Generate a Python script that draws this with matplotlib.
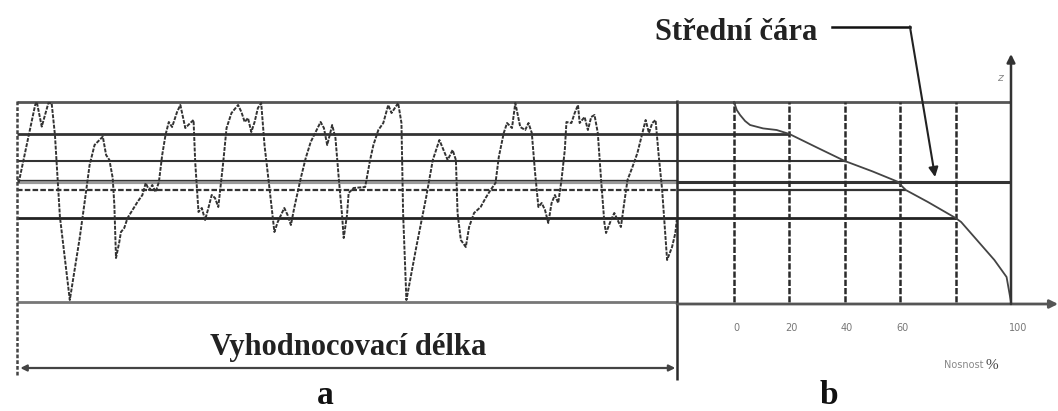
import numpy as np
import matplotlib
matplotlib.use("Agg")
import matplotlib.pyplot as plt

# Roughness profile: position along evaluation length (mm) and height (um)
profile_x = [0.01, 0.11, 0.12, 0.15, 0.17, 0.19, 0.21, 0.23, 0.26, 0.32,
             0.38, 0.41, 0.44, 0.47, 0.52, 0.54, 0.56, 0.58, 0.59, 0.60,
             0.62, 0.63, 0.65, 0.67, 0.70, 0.73, 0.76, 0.78, 0.80, 0.82,
             0.84, 0.86, 0.88, 0.90, 0.92, 0.94, 0.97, 0.99, 1.02, 1.05,
             1.07, 1.08, 1.10, 1.12, 1.14, 1.16, 1.18, 1.20, 1.22, 1.23,
             1.25, 1.27, 1.30, 1.34, 1.36, 1.38, 1.40, 1.42, 1.44, 1.46,
             1.48, 1.50, 1.53, 1.55, 1.56, 1.58, 1.60, 1.62, 1.64, 1.66,
             1.68, 1.72, 1.75, 1.78, 1.81, 1.84, 1.86, 1.88, 1.90, 1.91,
             1.93, 1.95, 1.97, 1.98, 2.00, 2.01, 2.04, 2.11, 2.14, 2.16,
             2.19, 2.22, 2.25, 2.27, 2.29, 2.31, 2.33, 2.34, 2.36, 2.42,
             2.48, 2.52, 2.56, 2.59, 2.61, 2.64, 2.66, 2.67, 2.69, 2.72,
             2.74, 2.77, 2.81, 2.84, 2.87, 2.90, 2.92, 2.95, 2.97, 3.00,
             3.02, 3.05, 3.08, 3.10, 3.12, 3.14, 3.16, 3.18, 3.20, 3.22,
             3.24, 3.26, 3.28, 3.30, 3.32, 3.33, 3.36, 3.38, 3.40, 3.41,
             3.44, 3.46, 3.48, 3.50, 3.52, 3.54, 3.56, 3.57, 3.60, 3.62,
             3.64, 3.66, 3.68, 3.70, 3.73, 3.76, 3.79, 3.81, 3.83, 3.85,
             3.87, 3.89, 3.91, 3.93, 3.94, 3.97, 3.99, 4.00]
profile_z = [59.5, 98.5, 100, 87.7, 93.5, 99.4, 99.4, 83.5, 42.7, 1,
             32, 50, 68.5, 78.5, 82.7, 73.5, 71, 62, 48.5, 22,
             30, 35, 37, 42, 46, 50, 53.5, 59.5, 56, 58.5,
             55, 60, 73.5, 83.5, 90, 87.5, 95, 98.5, 87, 89.5,
             91, 70, 45, 47, 41, 47, 53.5, 52, 47.5, 55,
             70, 87, 94.5, 98.5, 95, 90, 92, 85, 90, 97,
             99.5, 78.5, 57, 42, 35, 40, 43.5, 47, 43.5, 38.5,
             47, 62, 72, 80, 85, 90, 87, 78.5, 85, 88.5,
             82, 62, 43.5, 32, 43.5, 54.5, 57, 57.5, 71, 78.5,
             86, 89.5, 98.5, 94.5, 97, 99.5, 89.5, 44.5, 1, 27.5,
             52.5, 71, 81, 75, 71, 76, 71, 44.5, 31, 27.5,
             37.5, 44.5, 47.5, 52, 56, 59.5, 72.5, 84.5, 89.5, 87,
             99.5, 87.5, 86, 89.5, 84.5, 64.5, 47.5, 49.5, 46, 39.5,
             49.5, 53.5, 49.5, 61, 76, 90, 89.5, 94.5, 98.5, 89.5,
             92.5, 86, 92.5, 93.5, 84.5, 61, 39.5, 34.5, 41, 44.5,
             41, 37.5, 49.5, 61, 67.5, 74.5, 84.5, 91, 84.5, 89.5,
             91, 72.5, 56, 32.5, 21, 27.5, 34.5, 42]
eval_length = 4.0

# Abbott-Firestone (bearing) curve: material ratio (%) vs height (um)
bearing_pct = [0, 1, 2.2, 4, 5.8, 10.5, 15.4, 20, 30, 40, 50, 59, 62, 70,
               80, 82, 88, 94, 98.4, 100]
bearing_z = [100, 96, 93.5, 90.5, 88.5, 86.8, 86, 84, 77.2, 70.5, 65.3,
             60.2, 56, 50, 42, 40, 30.5, 21, 12.5, 0]

# Section levels (um) and how far each is carried into the bearing chart (%)
level_z = [100, 84, 70.5, 56, 42, 0]
level_reach = [100, 20, 40, 62, 80, 117]
level_lw = [2.0, 2.0, 1.5, 1.6, 2.0, 2.0]
level_col = ["#555555", "#333333", "#333333", "#333333", "#222222", "#777777"]
mean_line = 60
ratio_grid = [0, 20, 40, 60, 80]
ratio_ticks = [0, 20, 40, 60, 100]

serif = ["Liberation Serif", "DejaVu Serif"]
ink = "#2a2a2a"

fig = plt.figure(figsize=(10.58, 4.11), dpi=100)
fig.patch.set_facecolor("white")

ylim = (-54.5, 151)
axL = fig.add_axes([0, 0, 677 / 1058, 1])
axL.set_xlim(-17 / 165, eval_length)
axL.set_ylim(*ylim)
axR = fig.add_axes([677 / 1058, 0, 381 / 1058, 1])
axR.set_xlim(-57 / 2.77, 324 / 2.77)
axR.set_ylim(*ylim)
for ax in (axL, axR):
    ax.axis("off")

# --- a: profile over the evaluation length ---
for z, lw, c in zip(level_z, level_lw, level_col):
    ls = (0, (2.5, 1)) if z == 56 else "-"
    axL.hlines(z, 0, eval_length, colors=c, lw=lw, linestyles=ls)
axL.hlines(mean_line, 0, eval_length, colors="#9a9a9a", lw=3.0)
axL.hlines(mean_line + 0.8, 0, eval_length, colors="#333333", lw=0.9)

axL.plot(profile_x, profile_z, color="#333333", lw=1.4,
         linestyle=(0, (2, 0.7)))

axL.vlines(0, -36.5, 101, colors="#444444", lw=1.8, linestyles=(0, (1.5, 0.8)))
axL.vlines(eval_length, -39, 101, colors=ink, lw=1.8, clip_on=False)

axL.annotate("", xy=(0.02, -33), xytext=(eval_length - 0.01, -33),
             arrowprops=dict(arrowstyle="<|-|>", color="#444444", lw=1.6,
                             mutation_scale=9, shrinkA=0, shrinkB=0))
axL.text(2.01, -26.5, "Vyhodnocovací délka", ha="center", va="baseline",
         fontsize=22, family=serif, weight="bold", color="#222222")
axL.text(1.87, -51, "a", ha="center", va="baseline", fontsize=24,
         family=serif, weight="bold", color="#111111")

# --- b: bearing curve ---
x0 = axR.get_xlim()[0]
for z, reach, lw, c in zip(level_z[:-1], level_reach[:-1], level_lw[:-1],
                           level_col[:-1]):
    axR.hlines(z, x0, reach, colors=c, lw=lw)
axR.hlines(mean_line, x0, 100, colors="#333333", lw=2.2)

axR.vlines(ratio_grid, 0, 100, colors=ink, lw=1.8,
           linestyles=(0, (2.5, 0.8)))
axR.plot(bearing_pct, bearing_z, color="#444444", lw=1.3)

# axes with arrow heads
axR.annotate("", xy=(117, -1), xytext=(x0, -1),
             arrowprops=dict(arrowstyle="-|>", color="#555555", lw=2.0,
                             mutation_scale=12, shrinkA=0, shrinkB=0))
axR.annotate("", xy=(100, 124), xytext=(100, -1),
             arrowprops=dict(arrowstyle="-|>", color="#333333", lw=1.8,
                             mutation_scale=12, shrinkA=0, shrinkB=0))
axR.text(96, 112, "z", ha="center", va="center", fontsize=8,
         color="#888888", style="italic")

for t in ratio_ticks:
    axR.text(t + (2.5 if t == 100 else 0.8), -13, str(t), ha="center",
             va="center", fontsize=7, color="#777777")
axR.text(83, -31.5, "Nosnost", ha="center", va="center", fontsize=7,
         color="#888888")
axR.text(93, -31.5, "%", ha="center", va="center", fontsize=11,
         family=serif, color="#444444")
axR.text(34.3, -51, "b", ha="center", va="baseline", fontsize=24,
         family=serif, weight="bold", color="#111111")

# label and leader pointing at the mean line
axR.text(30, 131, "Střední čára", ha="right", va="baseline", fontsize=22,
         family=serif, weight="bold", color="#222222", clip_on=False)
axR.plot([35.4, 63.5], [137.5, 137.5], color="#111111", lw=1.8,
         clip_on=False)
axR.annotate("", xy=(72.6, 62.5), xytext=(63.5, 137.8),
             arrowprops=dict(arrowstyle="-|>", color="#222222", lw=1.5,
                             mutation_scale=14, shrinkA=0, shrinkB=0))

fig.savefig("out.png", dpi=100, facecolor="white")
